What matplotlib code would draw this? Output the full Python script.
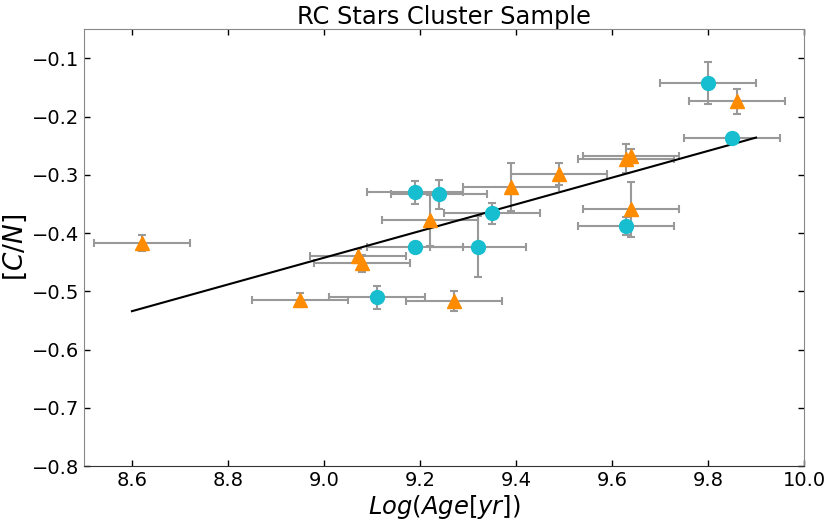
import numpy as np
import matplotlib
matplotlib.use("Agg")
import matplotlib.pyplot as plt

# circles
age_c = [9.80, 9.85, 9.19, 9.24, 9.35, 9.19, 9.32, 9.63, 9.11]
cn_c = [-0.142, -0.236, -0.330, -0.333, -0.366, -0.423, -0.423, -0.388, -0.510]
cn_c_err = [0.036, 0.006, 0.020, 0.025, 0.018, 0.008, 0.053, 0.015, 0.020]
age_c_err = [0.1] * len(age_c)

# triangles
age_t = [9.86, 9.63, 9.64, 9.64, 9.49, 9.39, 9.22, 9.07, 9.08, 8.95, 9.27, 8.62]
cn_t = [-0.174, -0.272, -0.267, -0.359, -0.299, -0.321, -0.378, -0.440, -0.452, -0.514, -0.516, -0.417]
cn_t_err = [0.022, 0.025, 0.012, 0.047, 0.019, 0.041, 0.044, 0.012, 0.015, 0.012, 0.017, 0.014]
age_t_err = [0.1] * len(age_t)

# fit line
fit_x = [8.6, 9.9]
fit_y = [-0.534, -0.236]

fig = plt.figure(figsize=(8.31, 5.22), dpi=100)
ax = fig.add_axes([0.101, 0.107, 0.8665, 0.837])

ax.errorbar(age_c, cn_c, xerr=age_c_err, yerr=cn_c_err, fmt='o', color='#17becf',
            markersize=10, ecolor='#999999', elinewidth=1.5, capsize=3, capthick=1.5)
ax.errorbar(age_t, cn_t, xerr=age_t_err, yerr=cn_t_err, fmt='^', color='#ff8c00',
            markersize=10, ecolor='#999999', elinewidth=1.5, capsize=3, capthick=1.5)
ax.plot(fit_x, fit_y, color='black', lw=1.5)

ax.set_xlim(8.5, 10.0)
ax.set_ylim(-0.8, -0.05)
ax.set_xticks([8.6, 8.8, 9.0, 9.2, 9.4, 9.6, 9.8, 10.0])
ax.set_yticks([-0.8, -0.7, -0.6, -0.5, -0.4, -0.3, -0.2, -0.1])
ax.tick_params(direction='in', top=True, right=True, labelsize=14, length=4, width=1)

for s in ['left', 'top', 'right']:
    ax.spines[s].set_color('#888888')
ax.spines['bottom'].set_color('#333333')

ax.set_title('RC Stars Cluster Sample', fontsize=17.4, pad=4)
ax.set_xlabel('$Log(Age[yr])$', fontsize=17.5, labelpad=2)
ax.set_ylabel('$[C/N]$', fontsize=19, labelpad=2)

fig.savefig('out.png', dpi=100)
